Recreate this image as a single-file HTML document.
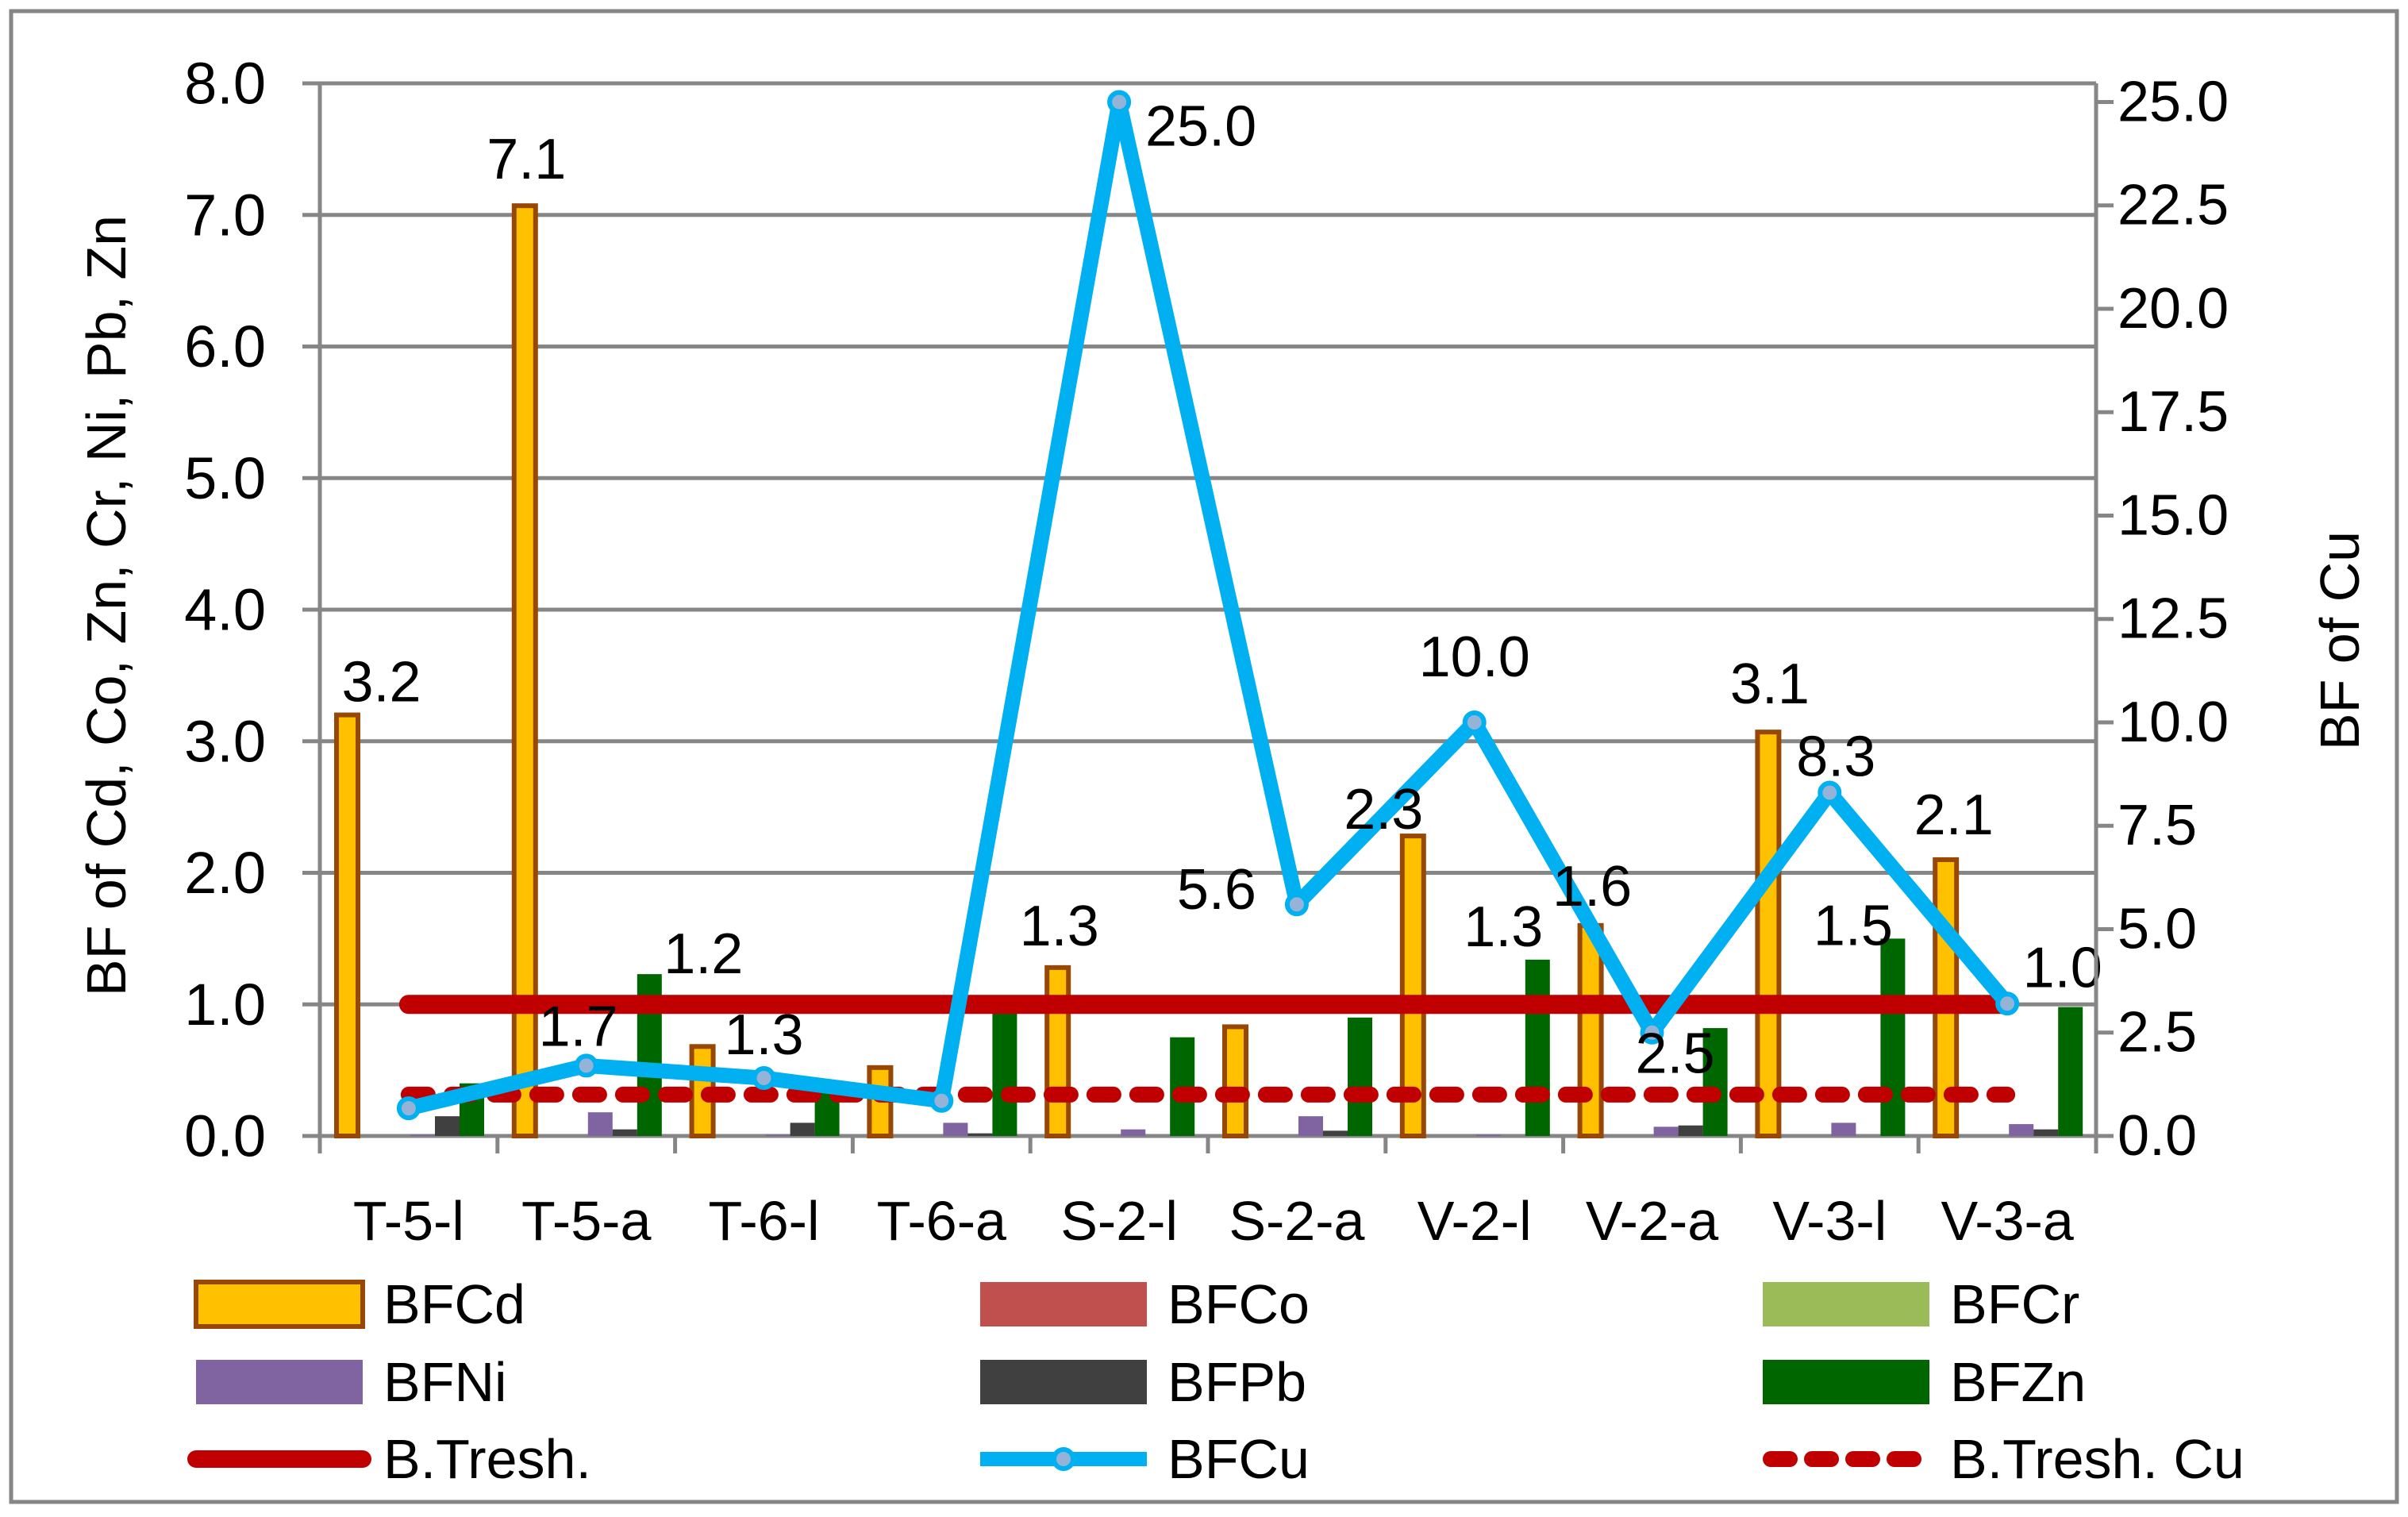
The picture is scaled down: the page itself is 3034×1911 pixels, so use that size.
<!DOCTYPE html>
<html><head><meta charset="utf-8"><style>
html,body{margin:0;padding:0;background:#fff;}
svg{display:block;font-family:"Liberation Sans",sans-serif;}
</style></head><body>
<svg id="chart" width="3034" height="1911" viewBox="0 0 3034 1911" xmlns="http://www.w3.org/2000/svg">
<rect x="14" y="14" width="3006" height="1878" fill="#fff" stroke="#868686" stroke-width="5"/>
<g id="grid"></g><g id="bars"></g><g id="lines"></g><g id="labels"></g><g id="axes"></g><g id="legend"></g>
<text transform="translate(158,763) rotate(-90)" font-size="70" text-anchor="middle">BF of Cd, Co, Zn, Cr, Ni, Pb, Zn</text>
<text transform="translate(2972,807) rotate(-90)" font-size="70" text-anchor="middle">BF of Cu</text>
</svg>
<script>
const categories=["T-5-l","T-5-a","T-6-l","T-6-a","S-2-l","S-2-a","V-2-l","V-2-a","V-3-l","V-3-a"];
const bfCd=[3.2,7.07,0.68,0.52,1.28,0.83,2.28,1.6,3.07,2.1];
const bfCo=[0,0,0,0,0,0,0,0,0,0];
const bfCr=[0,0,0,0,0,0,0,0,0,0];
const bfNi=[0.01,0.18,0.01,0.1,0.05,0.15,0.01,0.07,0.1,0.09];
const bfPb=[0.15,0.05,0.1,0.02,0,0.04,0,0.08,0,0.05];
const bfZn=[0.4,1.23,0.35,0.95,0.75,0.9,1.34,0.82,1.5,0.98];
const bfCu=[0.67,1.7,1.4,0.85,25.0,5.6,10.0,2.5,8.3,3.2];
const bThresh=1.0;
const bThreshCu=1.0;
const leftTicks=["0.0","1.0","2.0","3.0","4.0","5.0","6.0","7.0","8.0"];
const rightTicks=["0.0","2.5","5.0","7.5","10.0","12.5","15.0","17.5","20.0","22.5","25.0"];
const labelSeries=["Cd","Cd","Cd","Cd","Cd","Cd","Cd","Zn","Zn","Zn","Zn","Cu","Cu","Cu","Cu","Cu","Cu","Cu"];
const labelIndex=[0,1,4,6,7,8,9,1,6,8,9,1,2,4,5,6,7,8];
const labelText=["3.2","7.1","1.3","2.3","1.6","3.1","2.1","1.2","1.3","1.5","1.0","1.7","1.3","25.0","5.6","10.0","2.5","8.3"];
// label placement offsets (style, not data)
const labDX=[41,0,0,-39,0,0,8,68,-43,-50,-10,-10,0,103,-101,0,29,8];
const labDY=[-41,-58,-52,-33,-49,-60,-56,-25,-41,-16,-49,-49,-54,31,-18,-82,27,-45];

const NS="http://www.w3.org/2000/svg";
const X0=403,X1=2641,Y0=1431,YT=105,LMAX=8,RMAX=25.45;
const band=(X1-X0)/categories.length;
const yL=v=>Y0-(v/LMAX)*(Y0-YT);
const yR=v=>Y0-(v/RMAX)*(Y0-YT);
const xC=i=>X0+band*(i+0.5);
function mk(tag,attrs,parent){const e=document.createElementNS(NS,tag);for(const k in attrs)e.setAttribute(k,attrs[k]);document.getElementById(parent).appendChild(e);return e;}
leftTicks.forEach((t,i)=>{const v=parseFloat(t);const y=yL(v);
 const g=mk('line',{x1:X0-22,x2:X1,y1:y,y2:y,stroke:'#868686','stroke-width':5},'grid');
 
 const tx=mk('text',{x:335,y:y,'font-size':74,'text-anchor':'end','dominant-baseline':'central'},'axes');tx.textContent=t;
 });
rightTicks.forEach(t=>{const y=yR(parseFloat(t));
 const l=mk('line',{x1:X1,x2:X1+22,y1:y,y2:y,stroke:'#868686','stroke-width':5},'axes');
 
 const tx=mk('text',{x:2668,y:y,'font-size':72,'dominant-baseline':'central'},'axes');tx.textContent=t;
 });
let a=mk('line',{x1:X0,x2:X0,y1:YT,y2:Y0+20,stroke:'#868686','stroke-width':5},'axes');
a=mk('line',{x1:X1,x2:X1,y1:YT,y2:Y0+20,stroke:'#868686','stroke-width':5},'axes');
for(let i=0;i<=categories.length;i++){const x=X0+band*i;const t=mk('line',{x1:x,x2:x,y1:Y0,y2:Y0+22,stroke:'#868686','stroke-width':5},'axes');}
categories.forEach((c,i)=>{const t=mk('text',{x:xC(i),y:1538,'font-size':70,'text-anchor':'middle','dominant-baseline':'central'},'axes');t.textContent=c;});
const barSeries=[[bfCd,'#FFC000','#974806','cd'],[bfCo,'#C0504D','none','co'],[bfCr,'#9BBB59','none','cr'],[bfNi,'#8064A2','none','ni'],[bfPb,'#404040','none','pb'],[bfZn,'#006600','none','zn']];
const bw=31,off=21;
barSeries.forEach((s,k)=>{s[0].forEach((v,i)=>{const x=X0+band*i+off+k*bw;const y=yL(v);
 const r=mk('rect',{x:x,y:y,width:bw-(k==0?4:0),height:Y0-y,fill:s[1],stroke:s[2],'stroke-width':k==0?6:0},'bars');
 });});
let l=mk('line',{x1:xC(0),x2:xC(9),y1:yL(bThresh),y2:yL(bThresh),stroke:'#C00000','stroke-width':24,'stroke-linecap':'round'},'lines');

l=mk('line',{x1:xC(0),x2:xC(9),y1:yR(bThreshCu),y2:yR(bThreshCu),stroke:'#C00000','stroke-width':20,'stroke-dasharray':'24 30','stroke-linecap':'round'},'lines');

const pl=mk('polyline',{points:bfCu.map((v,i)=>xC(i)+','+yR(v)).join(' '),fill:'none',stroke:'#00B0F0','stroke-width':19,'stroke-linejoin':'round'},'lines');

bfCu.forEach((v,i)=>{const c=mk('circle',{cx:xC(i),cy:yR(v),r:12,fill:'#95B3D7',stroke:'#00B0F0','stroke-width':6},'lines');});
const ser={Cd:bfCd,Zn:bfZn,Cu:bfCu};const serOff={Cd:0,Zn:5};
labelText.forEach((t,j)=>{const s=labelSeries[j],i=labelIndex[j];let x,y;
 if(s==='Cu'){x=xC(i);y=yR(bfCu[i]);}else{x=X0+band*i+off+serOff[s]*bw+bw/2;y=yL(ser[s][i]);}
 const tx=mk('text',{x:x+labDX[j],y:y+labDY[j],'font-size':72,'text-anchor':'middle','dominant-baseline':'central'},'labels');tx.textContent=t;
 });
const legItems=[["BFCd","bar","#FFC000","#974806"],["BFCo","bar","#C0504D"],["BFCr","bar","#9BBB59"],["BFNi","bar","#8064A2"],["BFPb","bar","#404040"],["BFZn","bar","#006600"],["B.Tresh.","line"],["BFCu","cu"],["B.Tresh. Cu","dash"]];
const colX=[247,1235,2221],rowY=[1643,1741,1838];
legItems.forEach((it,n)=>{const x=colX[n%3],y=rowY[Math.floor(n/3)];
 const g=document.createElementNS(NS,'g');document.getElementById('legend').appendChild(g);
 const add=(tag,at)=>{const e=document.createElementNS(NS,tag);for(const k in at)e.setAttribute(k,at[k]);g.appendChild(e);};
 if(it[1]==='bar')add('rect',{x:x,y:y-28,width:210,height:56,fill:it[2],stroke:it[3]||'none','stroke-width':6});
 else if(it[1]==='line')add('line',{x1:x,x2:x+210,y1:y,y2:y,stroke:'#C00000','stroke-width':22,'stroke-linecap':'round'});
 else if(it[1]==='cu'){add('line',{x1:x,x2:x+210,y1:y,y2:y,stroke:'#00B0F0','stroke-width':18});add('circle',{cx:x+105,cy:y,r:12,fill:'#95B3D7',stroke:'#00B0F0','stroke-width':6});}
 else add('line',{x1:x+10,x2:x+210,y1:y,y2:y,stroke:'#C00000','stroke-width':20,'stroke-dasharray':'24 28','stroke-linecap':'round'});
 add('text',{x:x+236,y:y,'font-size':70,'dominant-baseline':'central'});g.lastChild.textContent=it[0];});
</script>
</body></html>
